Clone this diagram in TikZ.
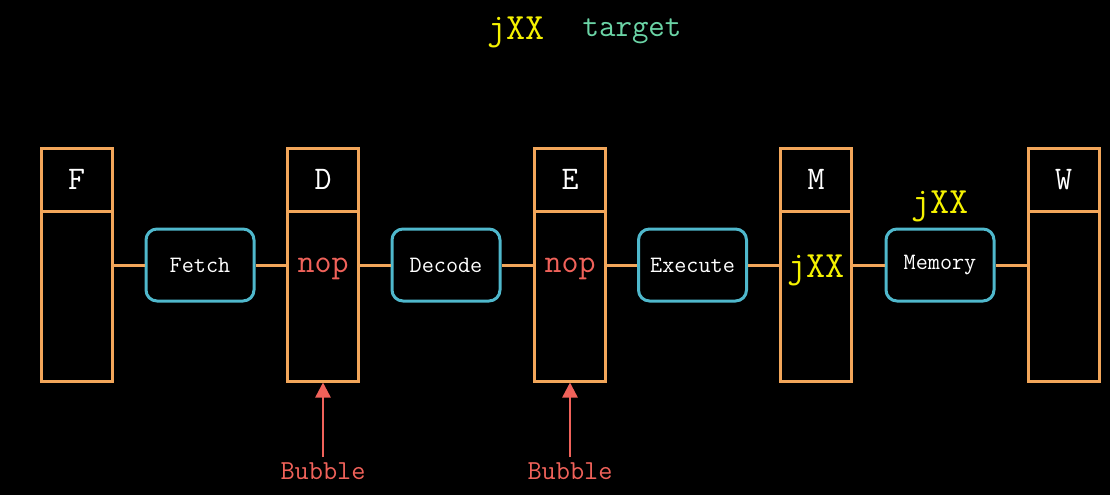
\documentclass[tikz,border=0pt]{standalone}
\usepackage{fontspec}
\setmonofont{Latin Modern Mono}
\usetikzlibrary{arrows.meta}
\definecolor{regc}{HTML}{F2A65A}
\definecolor{boxc}{HTML}{4FB8CC}
\definecolor{redc}{HTML}{F0625A}
\definecolor{yelc}{HTML}{F5F200}
\definecolor{grnc}{HTML}{6BD4A6}
\tikzset{
  regtop/.style={draw=regc, line width=3pt, minimum width=71pt, minimum height=63pt, inner sep=0pt, text=white, font=\ttfamily\fontsize{33}{33}\selectfont},
  regbot/.style={draw=regc, line width=3pt, minimum width=71pt, minimum height=170pt, inner sep=0pt},
  stagebox/.style={draw=boxc, line width=3pt, rounded corners=11pt, minimum width=108pt, minimum height=72pt, inner sep=0pt, text=white, font=\ttfamily\fontsize{23.5}{23.5}\selectfont},
  wire/.style={draw=regc, line width=3pt},
  bubarrow/.style={draw=redc, line width=2.5pt, -{Triangle[length=15pt,width=15pt]}},
  nopt/.style={text=redc, font=\ttfamily\fontsize{33}{33}\selectfont, inner sep=0pt},
  jxxt/.style={text=yelc, font=\ttfamily\fontsize{37}{37}\selectfont, inner sep=0pt},
  bubt/.style={text=redc, font=\ttfamily\fontsize{27.5}{27.5}\selectfont, inner sep=0pt},
}
\begin{document}
\begin{tikzpicture}[x=1pt,y=-1pt]
\fill[black] (0,0) rectangle (1110,495);
\useasboundingbox (0,0) rectangle (1110,495);

% registers
\node[regtop] (Ft) at (76.5,179.5) {F};
\node[regbot] (Fb) at (76.5,296) {};
\node[regtop] (Dt) at (323,179.5) {D};
\node[regbot] (Db) at (323,296) {};
\node[regtop] (Et) at (570,179.5) {E};
\node[regbot] (Eb) at (570,296) {};
\node[regtop] (Mt) at (816,179.5) {M};
\node[regbot] (Mb) at (816,296) {};
\node[regtop] (Wt) at (1063.5,179.5) {W};
\node[regbot] (Wb) at (1063.5,296) {};

% stage boxes
\node[stagebox] (fetch) at (200,265) {Fetch};
\node[stagebox] (decode) at (446,265) {Decode};
\node[stagebox] (execute) at (692.5,265) {Execute};
\node[stagebox] (memory) at (940,265) {\raisebox{2pt}{Memory}};

% wires
\draw[wire] (fetch.west) -- (fetch.west -| Fb.east);
\draw[wire] (fetch.east) -- (fetch.east -| Db.west);
\draw[wire] (decode.west) -- (decode.west -| Db.east);
\draw[wire] (decode.east) -- (decode.east -| Eb.west);
\draw[wire] (execute.west) -- (execute.west -| Eb.east);
\draw[wire] (execute.east) -- (execute.east -| Mb.west);
\draw[wire] (memory.west) -- (memory.west -| Mb.east);
\draw[wire] (memory.east) -- (memory.east -| Wb.west);

% register contents
\node[nopt] (dnop) at (323,268.5) {nop};
\node[nopt] (enop) at (570,268.5) {nop};
\node[jxxt] (mjxx) at (816,270) {jXX};
\node[jxxt] (memjxx) at (940,206) {jXX};

% title
\node[jxxt] (tj) at (516,32) {jXX};
\node[text=grnc, font=\ttfamily\fontsize{32}{32}\selectfont, inner sep=0pt] (tt) at (632,31.5) {target};

% bubbles
\node[bubt] (b1) at (323,471.5) {Bubble};
\node[bubt] (b2) at (570,471.5) {Bubble};
\draw[bubarrow] (b1.north |- 0,457) -- (Db.south);
\draw[bubarrow] (b2.north |- 0,457) -- (Eb.south);
\end{tikzpicture}
\end{document}
